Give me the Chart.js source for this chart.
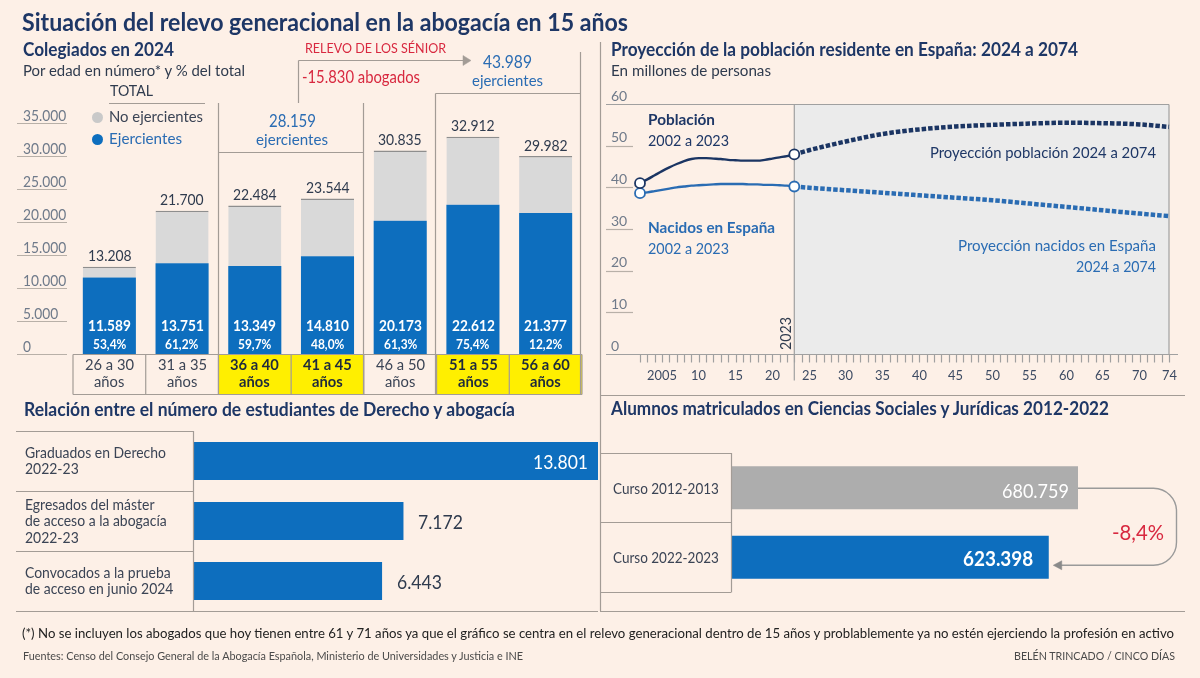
<!DOCTYPE html>
<html lang="es"><head><meta charset="utf-8"><title>Relevo generacional en la abogacía</title>
<script src="https://cdn.jsdelivr.net/npm/chart.js@4.4.1/dist/chart.umd.min.js"></script>
<style>
html,body{margin:0;padding:0;background:#fdf0e7;}
#root{position:relative;width:1200px;height:678px;overflow:hidden;background:#fdf0e7;font-family:Lato,'Open Sans',sans-serif;}
#root canvas{position:absolute;}
.t{position:absolute;white-space:nowrap;line-height:1;transform-origin:0 50%;}
.cell{position:absolute;box-sizing:border-box;}
#root svg{position:absolute;left:0;top:0;}
</style></head><body><div id="root"></div>
<script>
// ---------------- DATA ----------------
const ageGroups = ['26 a 30','31 a 35','36 a 40','41 a 45','46 a 50','51 a 55','56 a 60'];
const totalColegiados = [13208, 21700, 22484, 23544, 30835, 32912, 29982];
const ejercientes = [11589, 13751, 13349, 14810, 20173, 22612, 21377];
const pctEjercientes = ['53,4%','61,2%','59,7%','48,0%','61,3%','75,4%','12,2%'];
const highlightedGroups = ['36 a 40','41 a 45','51 a 55','56 a 60'];
const colegiadosTicks = [0, 5000, 10000, 15000, 20000, 25000, 30000, 35000];

const histYears = [2002,2003,2004,2005,2006,2007,2008,2009,2010,2011,2012,2013,2014,2015,2016,2017,2018,2019,2020,2021,2022,2023];
const poblacionHist = [41.0,41.9,42.9,43.9,44.8,45.6,46.3,46.8,47.0,47.0,46.9,46.8,46.6,46.5,46.4,46.4,46.4,46.6,46.9,47.2,47.5,47.9];
const nacidosHist = [38.6,38.8,39.1,39.4,39.7,40.0,40.2,40.4,40.5,40.6,40.7,40.8,40.8,40.8,40.8,40.7,40.7,40.6,40.6,40.5,40.4,40.2];
const projYears = [2023,2025,2030,2035,2040,2045,2050,2055,2060,2065,2070,2074];
const poblacionProj = [47.9,48.9,51.0,52.8,53.9,54.6,55.0,55.3,55.5,55.4,55.1,54.5];
const nacidosProj = [40.2,39.9,39.3,38.7,38.1,37.5,36.9,36.1,35.3,34.5,33.7,33.1];
const popTicks = [0,10,20,30,40,50,60];
const yearLabels = [2005,2010,2015,2020,2025,2030,2035,2040,2045,2050,2055,2060,2065,2070,2074];

const estudiantesLabels = [['Graduados en Derecho','2022-23'],['Egresados del máster','de acceso a la abogacía','2022-23'],['Convocados a la prueba','de acceso en junio 2024']];
const estudiantesValues = [13801, 7172, 6443];

const cursos = ['Curso 2012-2013','Curso 2022-2023'];
const matriculados = [680759, 623398];
const variacion = '-8,4%';

// ---------------- STYLE ----------------
const NAVY='#1e3766', DARK='#2f3b4e', TXT='#3b4455', GRAYT='#6f7a8a', BLUE='#0d6ebe', BLUE2='#2a6cb3', RED='#d8283f', LINE='#a39c96';
const root=document.getElementById('root');
const fmt = n => String(n).replace(/\B(?=(\d{3})+(?!\d))/g,'.');

function mk(l,t,w,h){const c=document.createElement('canvas');c.width=w;c.height=h;c.style.left=l+'px';c.style.top=t+'px';c.style.width=w+'px';c.style.height=h+'px';root.appendChild(c);return c;}
const common={responsive:false,animation:false,devicePixelRatio:1,events:[],plugins:{legend:{display:false},tooltip:{enabled:false}}};

// ---------------- CHART A: colegiados ----------------
const cA=mk(73,123,509,231);
const chartA=new Chart(cA,{type:'bar',data:{labels:ageGroups,datasets:[
 {label:'Ejercientes',data:ejercientes,backgroundColor:BLUE,barPercentage:0.73,categoryPercentage:1},
 {label:'No ejercientes',data:totalColegiados.map((t,i)=>t-ejercientes[i]),backgroundColor:'#d9d9d9',borderColor:'#8e8e8e',borderWidth:{top:1.5,left:0,right:0,bottom:0},barPercentage:0.73,categoryPercentage:1}
]},options:{...common,layout:{padding:0},scales:{x:{display:false,stacked:true},y:{display:false,stacked:true,min:0,max:35000}}}});

// ---------------- CHART B: población ----------------
const guide={id:'guide',
 beforeDatasetsDraw(c){const {ctx,scales:{x,y}}=c;ctx.save();
  ctx.fillStyle='#ebebeb';ctx.fillRect(x.getPixelForValue(2023),y.getPixelForValue(60),x.getPixelForValue(2074)-x.getPixelForValue(2023),y.getPixelForValue(0)-y.getPixelForValue(60));
  ctx.strokeStyle='#a0a0a0';ctx.lineWidth=1.2;
  const ln=(a,b,cc,d)=>{ctx.beginPath();ctx.moveTo(a,b);ctx.lineTo(cc,d);ctx.stroke();};
  const y60=Math.round(y.getPixelForValue(60))+0.5, y0=Math.round(y.getPixelForValue(0))+0.5;
  ln(6,y60,x.getPixelForValue(2074),y60);
  ln(x.getPixelForValue(2074),y60,x.getPixelForValue(2074),y0);
  ln(x.getPixelForValue(2023),y60,x.getPixelForValue(2023),y0+26);
  ctx.strokeStyle='#b8b0a8';
  popTicks.filter(v=>v>0&&v<60).forEach(v=>{const py=Math.round(y.getPixelForValue(v))+0.5;ln(6,py,33,py);});
  ctx.strokeStyle='#a0a0a0';
  ln(6,y0,578,y0);
  for(let yr=histYears[0];yr<=projYears[projYears.length-1];yr++){const px=Math.round(x.getPixelForValue(yr))+0.5;ln(px,y0,px,y0+8);}
  ctx.restore();}};
const pts=(xs,ys)=>xs.map((v,i)=>({x:v,y:ys[i]}));
const endPts=ctx=>(ctx.dataIndex===0||ctx.dataIndex===histYears.length-1)?5:0;
const cB=mk(600,90,600,300);
const chartB=new Chart(cB,{type:'line',data:{datasets:[
 {label:'Población 2002 a 2023',data:pts(histYears,poblacionHist),borderColor:'#1b3563',borderWidth:2.4,pointRadius:endPts,pointBackgroundColor:'#fff',pointBorderColor:'#1b3563',pointBorderWidth:1.8,cubicInterpolationMode:'monotone',clip:false},
 {label:'Nacidos en España 2002 a 2023',data:pts(histYears,nacidosHist),borderColor:BLUE2,borderWidth:2.4,pointRadius:endPts,pointBackgroundColor:'#fff',pointBorderColor:BLUE2,pointBorderWidth:1.8,cubicInterpolationMode:'monotone',clip:false},
 {label:'Proyección población 2024 a 2074',data:pts(projYears,poblacionProj),borderColor:'#1b3563',borderWidth:4.5,borderDash:[4.5,2],borderCapStyle:'butt',pointRadius:0,cubicInterpolationMode:'monotone',clip:false},
 {label:'Proyección nacidos en España 2024 a 2074',data:pts(projYears,nacidosProj),borderColor:BLUE2,borderWidth:4.5,borderDash:[4.5,2],borderCapStyle:'butt',pointRadius:0,cubicInterpolationMode:'monotone',clip:false}
]},options:{...common,layout:{padding:{left:40,right:31,top:14,bottom:36}},scales:{x:{type:'linear',display:false,min:2002,max:2074},y:{display:false,min:0,max:60}}},plugins:[guide]});

// ---------------- CHART C: estudiantes ----------------
const cC=mk(193,431,405,180);
const chartC=new Chart(cC,{type:'bar',data:{labels:estudiantesLabels.map(l=>l.join(' ')),datasets:[{data:estudiantesValues,backgroundColor:BLUE,barPercentage:0.633,categoryPercentage:1}]},
 options:{...common,indexAxis:'y',layout:{padding:0},scales:{x:{display:false,min:0,max:Math.max(...estudiantesValues)},y:{display:false}}}});

// ---------------- CHART D: matriculados ----------------
const cD=mk(731,453,347,139);
const chartD=new Chart(cD,{type:'bar',data:{labels:cursos,datasets:[{data:matriculados,backgroundColor:['#adadad',BLUE],barPercentage:0.62,categoryPercentage:1}]},
 options:{...common,indexAxis:'y',layout:{padding:0},scales:{x:{display:false,min:0,max:Math.max(...matriculados)},y:{display:false}}}});

// ---------------- category cells (chart A) ----------------
const metaA=chartA.getDatasetMeta(0).data;
const cellW=chartA.scales.x.width/ageGroups.length;
ageGroups.forEach((g,i)=>{const cx=73+metaA[i].x;const d=document.createElement('div');d.className='cell';
 d.style.left=(cx-cellW/2)+'px';d.style.top='354.5px';d.style.width=cellW+'px';d.style.height='40px';
 d.style.background=highlightedGroups.includes(g)?'#ffef00':'transparent';root.appendChild(d);});

// ---------------- SVG lines ----------------
const NS='http://www.w3.org/2000/svg';
const svg=document.createElementNS(NS,'svg');svg.setAttribute('width','1200');svg.setAttribute('height','678');root.appendChild(svg);
function L(x1,y1,x2,y2,c=LINE,w=1.2){const e=document.createElementNS(NS,'line');e.setAttribute('x1',x1);e.setAttribute('y1',y1);e.setAttribute('x2',x2);e.setAttribute('y2',y2);e.setAttribute('stroke',c);e.setAttribute('stroke-width',w);svg.appendChild(e);}
function P(d,c=LINE,w=1.2,fill='none'){const e=document.createElementNS(NS,'path');e.setAttribute('d',d);e.setAttribute('stroke',c);e.setAttribute('stroke-width',w);e.setAttribute('fill',fill);svg.appendChild(e);}
// y ticks A
colegiadosTicks.forEach(v=>{const py=Math.round(123+chartA.scales.y.getPixelForValue(v))+0.5;L(17,py,67,py,'#b8b0a8');});
// category grid
const yBase=Math.round(123+chartA.scales.y.getPixelForValue(0))+0.5;
L(73,yBase,582,yBase);L(73,394.5,582,394.5);
for(let i=0;i<=ageGroups.length;i++){const bx=73+i*cellW;L(bx,yBase,bx,394.5);}
// legend underline + group boxes + arrow
L(109,103.5,205,103.5);
L(218.5,103,218.5,395);L(363.5,103,363.5,395);L(218.5,152.5,363.5,152.5);
L(298.5,103,298.5,60.5);L(298.5,60.5,464,60.5);P('M463,55.5 L471,60.5 L463,65.5 Z',LINE,0.5,LINE);
L(435.5,93.5,580.5,93.5);L(435.5,93.5,435.5,395);L(580.5,52,580.5,395);
// divider
L(600.5,42,600.5,611);
// bottom-left table
[431,491,551].forEach(y=>L(16,y+0.5,193,y+0.5));L(16,611.5,598,611.5);L(193.5,431,193.5,611.5);
// bottom-right
L(600,395.5,1185,395.5);L(600,611.5,1185,611.5);
[453,522,592].forEach(y=>L(600,y+0.5,731,y+0.5));L(731.5,453,731.5,592.5);
// bracket
const mD=chartD.getDatasetMeta(0).data;
const bx0=731+mD[0].x, by0=453+mD[0].y+0.5, bx1=731+mD[1].x, by1=453+mD[1].y+8, R=23, XR=1176.5;
P(`M${bx0},${by0} H${XR-R} A${R},${R} 0 0 1 ${XR},${by0+R} V${by1-R} A${R},${R} 0 0 1 ${XR-R},${by1} H${bx1+12}`,'#9a9a9a',1.4);
P(`M${bx1+4.5},${by1} L${bx1+13},${by1-4.5} L${bx1+13},${by1+4.5} Z`,'#8a8a8a',0.5,'#8a8a8a');

// ---------------- TEXT ----------------
function T(s,x,y,o={}){const f=o.f||15;const el=document.createElement('div');el.className='t';el.textContent=s;
 el.style.fontSize=f+'px';el.style.fontWeight=o.b?'700':'400';el.style.color=o.c||TXT;root.appendChild(el);
 const w0=el.getBoundingClientRect().width;const sx=o.w?o.w/w0:(o.sx||1);const w=w0*sx;const a=o.a||'l';
 if(o.rot){el.style.transformOrigin='50% 50%';el.style.left=(x-w0/2)+'px';el.style.top=(y-f/2)+'px';el.style.transform=`rotate(${o.rot}deg) scaleX(${sx})`;return el;}
 const left=a==='c'?x-w/2:a==='r'?x-w:x;el.style.left=left+'px';el.style.top=(y-f*0.53)+'px';el.style.transform=`scaleX(${sx})`;return el;}
function dot(cx,cy,r,c){const d=document.createElement('div');d.className='cell';d.style.left=(cx-r)+'px';d.style.top=(cy-r)+'px';d.style.width=2*r+'px';d.style.height=2*r+'px';d.style.borderRadius='50%';d.style.background=c;root.appendChild(d);}

T('Situación del relevo generacional en la abogacía en 15 años',22,22,{f:25,b:1,c:NAVY,w:606});
// top-left
T('Colegiados en 2024',23,50,{f:18,b:1,c:NAVY,w:151});
T('Por edad en número* y % del total',23,71,{f:15.5,c:DARK,w:222});
T('TOTAL',110,92,{f:14.5,c:DARK,w:43});
dot(97.5,117,5.5,'#c9c9c9');dot(97.5,139,5.5,BLUE);
T('No ejercientes',109,117,{f:15.5,c:TXT,w:94});
T('Ejercientes',109,139,{f:15.5,c:BLUE2,w:73});
T('RELEVO DE LOS SÉNIOR',305,48,{f:14,c:RED,w:141});
T('-15.830 abogados',302,78,{f:16.5,c:RED,w:118});
T('43.989',507,62,{f:17.5,c:BLUE2,w:49,a:'c'});
T('ejercientes',507,80,{f:16,c:BLUE2,w:71,a:'c'});
T('28.159',292,121,{f:17.5,c:BLUE2,w:47,a:'c'});
T('ejercientes',292,139,{f:16,c:BLUE2,w:72,a:'c'});
colegiadosTicks.forEach(v=>{const py=123+chartA.scales.y.getPixelForValue(v);T(fmt(v),23,py-6.5,{f:14.5,c:GRAYT,sx:0.95});});
ageGroups.forEach((g,i)=>{const cx=73+metaA[i].x;const topY=123+chartA.scales.y.getPixelForValue(totalColegiados[i]);
 T(fmt(totalColegiados[i]),cx,topY-11,{f:16,c:DARK,sx:0.87,a:'c'});
 T(fmt(ejercientes[i]),cx,yBase-28,{f:15.5,b:1,c:'#fff',sx:0.88,a:'c'});
 T(pctEjercientes[i],cx,yBase-10,{f:13,b:1,c:'#fff',sx:0.92,a:'c'});
 const hl=highlightedGroups.includes(g);
 T(g,cx,365.5,{f:15.5,b:hl,c:hl?'#1e2a3c':TXT,sx:0.95,a:'c'});
 T('años',cx,382,{f:15.5,b:hl,c:hl?'#1e2a3c':TXT,sx:0.95,a:'c'});});

// top-right
T('Proyección de la población residente en España: 2024 a 2074',611,50,{f:18,b:1,c:NAVY,w:467});
T('En millones de personas',611,71.5,{f:15.5,c:DARK,w:160});
popTicks.forEach(v=>{const py=90+chartB.scales.y.getPixelForValue(v);T(String(v),611,py-8,{f:14,c:GRAYT});});
yearLabels.forEach(yr=>{const px=600+chartB.scales.x.getPixelForValue(yr);T(yr===2005?'2005':String(yr%100),px,375,{f:14,c:'#3d4b63',sx:0.92,a:'c'});});
T('2023',600+chartB.scales.x.getPixelForValue(2023)-9,333,{f:15,c:'#2f3b4e',rot:-90,sx:0.95});
T('Población',648,119,{f:16,b:1,c:NAVY,w:67});
T('2002 a 2023',648,140,{f:16,c:NAVY,w:81});
T('Proyección población 2024 a 2074',1156,152,{f:16,c:NAVY,w:226,a:'r'});
T('Nacidos en España',648,227,{f:16,b:1,c:BLUE2,w:127});
T('2002 a 2023',648,248,{f:16,c:BLUE2,w:81});
T('Proyección nacidos en España',1156,245,{f:16,c:BLUE2,w:198,a:'r'});
T('2024 a 2074',1156,266,{f:16,c:BLUE2,w:80,a:'r'});

// bottom-left
T('Relación entre el número de estudiantes de Derecho y abogacía',24,410,{f:18,b:1,c:NAVY,w:491});
const mC=chartC.getDatasetMeta(0).data;
estudiantesLabels.forEach((lines,i)=>{const cy=431+mC[i].y;const n=lines.length;
 lines.forEach((s,k)=>T(s,25,cy+(k-(n-1)/2)*16.5,{f:15,c:TXT,sx:0.93}));
 const ex=193+mC[i].x;
 if(i===0)T(fmt(estudiantesValues[i]),ex-10,cy+1,{f:19.5,c:'#fff',sx:0.9,a:'r'});
 else T(fmt(estudiantesValues[i]),ex+15,cy+1,{f:19.5,c:DARK,sx:0.9});});

// bottom-right
T('Alumnos matriculados en Ciencias Sociales y Jurídicas 2012-2022',611,409,{f:18,b:1,c:NAVY,w:498});
cursos.forEach((s,i)=>{const cy=453+mD[i].y;T(s,612.5,cy+1,{f:15,c:TXT,sx:0.9});
 const ex=731+mD[i].x;
 if(i===0)T(fmt(matriculados[i]),ex-9,cy+2.5,{f:20,c:'#fff',sx:0.9,a:'r'});
 else T(fmt(matriculados[i]),ex-15,cy+0.5,{f:21,b:1,c:'#fff',sx:0.9,a:'r'});});
T(variacion,1111.5,532,{f:21,c:RED,w:52});

// footer
T('(*) No se incluyen los abogados que hoy tienen entre 61 y 71 años ya que el gráfico se centra en el relevo generacional dentro de 15 años y problablemente ya no estén ejerciendo la profesión en activo',22,634,{f:13.5,c:'#222',w:1152});
T('Fuentes: Censo del Consejo General de la Abogacía Española, Ministerio de Universidades y Justicia e INE',23,656.5,{f:11.5,c:'#4a4a4a',w:500});
T('BELÉN TRINCADO / CINCO DÍAS',1175,656.5,{f:11.5,c:'#4a4a4a',w:161,a:'r'});
</script></body></html>
